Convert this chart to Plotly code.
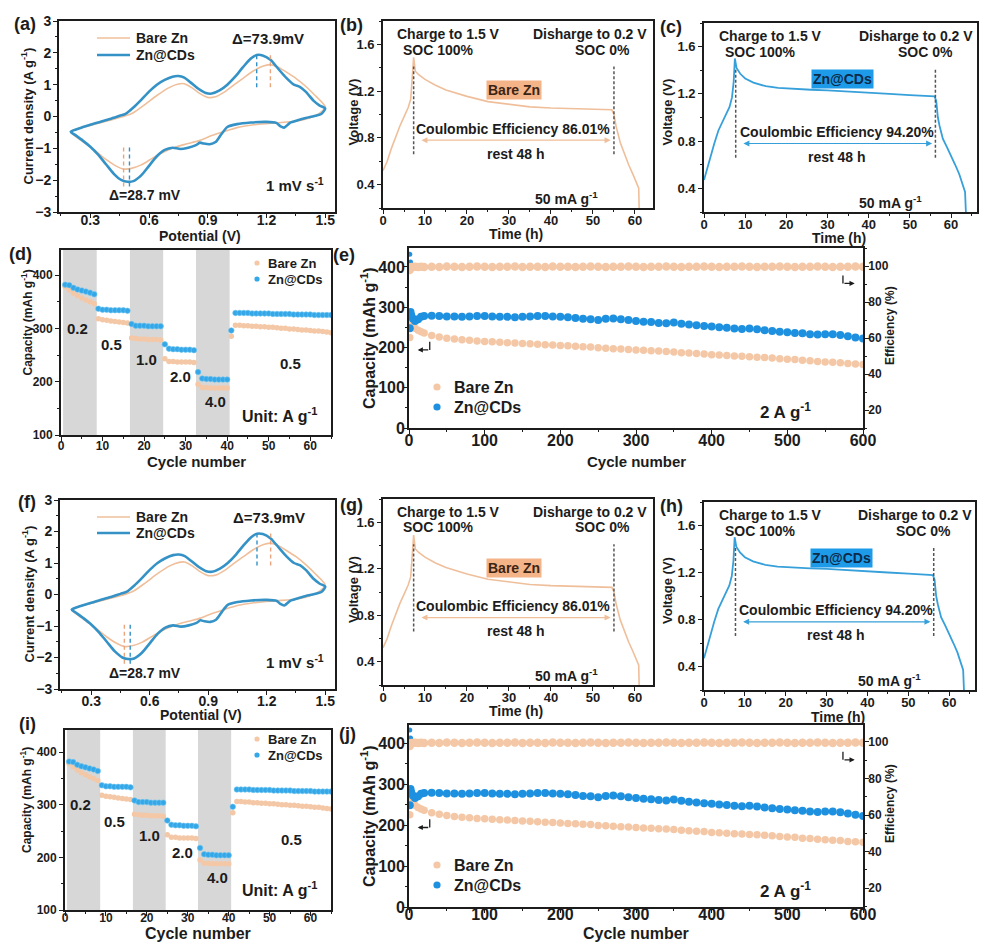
import plotly.graph_objects as go

W, H = 1001, 942
FONT = "Liberation Sans"
INK = "#1c1c1c"
OR_LINE = "#EFBF9B"
OR_PT = "#F4C8A6"
BL_CV = "#3592C6"
BL_GCD = "#37A0DA"
BL_PT = "#1E90E0"
BL_PT2 = "#34A7E8"

# ---------------- data ----------------
# (a) cyclic voltammetry, closed loops: anodic branch then cathodic branch
CV_BARE_V = [0.20, 0.30, 0.40, 0.48, 0.52, 0.58, 0.64, 0.70, 0.75, 0.78, 0.82, 0.86, 0.90, 0.94, 0.98,
             1.03, 1.08, 1.13, 1.18, 1.22, 1.26, 1.30, 1.35, 1.40, 1.45, 1.50,
             1.47, 1.42, 1.35, 1.25, 1.15, 1.05, 0.98, 0.92, 0.86, 0.80, 0.74, 0.68, 0.62, 0.56,
             0.51, 0.47, 0.43, 0.38, 0.32, 0.26, 0.20]
CV_BARE_I = [-0.48, -0.28, -0.12, 0.02, 0.12, 0.38, 0.66, 0.90, 1.02, 1.03, 0.90, 0.72, 0.60, 0.62, 0.75,
             0.98, 1.20, 1.42, 1.58, 1.63, 1.55, 1.40, 1.20, 0.95, 0.65, 0.30,
             0.10, -0.05, -0.15, -0.20, -0.25, -0.35, -0.48, -0.60, -0.75, -0.85, -0.95, -1.10, -1.30, -1.52,
             -1.63, -1.65, -1.55, -1.35, -1.05, -0.78, -0.48]
CV_CDS_V = [0.20, 0.25, 0.30, 0.35, 0.40, 0.45, 0.48, 0.52, 0.56, 0.60, 0.64, 0.68, 0.72, 0.75, 0.78,
            0.81, 0.85, 0.89, 0.92, 0.96, 1.00, 1.04, 1.08, 1.12, 1.15, 1.18, 1.22, 1.26, 1.30, 1.34,
            1.37, 1.40, 1.44, 1.47, 1.50,
            1.48, 1.45, 1.40, 1.36, 1.32, 1.29, 1.27, 1.25, 1.20, 1.12, 1.05, 1.00, 0.97, 0.94, 0.91,
            0.88, 0.86, 0.84, 0.80, 0.76, 0.72, 0.68, 0.64, 0.60, 0.56, 0.52, 0.49, 0.46, 0.42, 0.38,
            0.34, 0.30, 0.26, 0.22, 0.20]
CV_CDS_I = [-0.48, -0.36, -0.26, -0.17, -0.08, 0.02, 0.08, 0.28, 0.52, 0.78, 1.00, 1.15, 1.25, 1.27, 1.22,
            1.08, 0.88, 0.74, 0.72, 0.82, 1.00, 1.25, 1.55, 1.82, 1.93, 1.92, 1.78, 1.50, 1.22, 1.00,
            0.93, 0.78, 0.50, 0.35, 0.25,
            0.08, 0.02, -0.05, -0.12, -0.20, -0.35, -0.30, -0.20, -0.17, -0.19, -0.24, -0.33, -0.55, -0.80, -0.87,
            -0.85, -0.82, -0.90, -0.98, -1.02, -0.98, -1.05, -1.25, -1.55, -1.85, -2.03, -2.05, -2.00, -1.80, -1.50,
            -1.20, -0.95, -0.75, -0.57, -0.48]
CV_PEAKS_BARE = [0.47, 1.22]
CV_PEAKS_CDS = [0.50, 1.15]

# (b) galvanostatic charge / rest / discharge, Bare Zn
GCD_BARE_T = [0, 1, 2, 3, 4, 5, 6, 6.6, 7.0, 7.3, 7.7, 8.5, 10, 12.5, 15, 17.5, 20, 25, 30, 35, 40, 45,
              50, 54.5, 55.0, 55.5, 56.5, 57.5, 58.5, 59.5, 60.4, 60.9, 61.0]
GCD_BARE_V = [0.52, 0.60, 0.71, 0.81, 0.90, 0.98, 1.06, 1.13, 1.30, 1.49, 1.37, 1.34, 1.30, 1.25, 1.21,
              1.18, 1.155, 1.11, 1.085, 1.065, 1.055, 1.048, 1.043, 1.04, 1.00, 0.90, 0.76, 0.66, 0.57,
              0.49, 0.42, 0.37, 0.20]
# (c) same protocol, Zn@CDs
GCD_CDS_T = [0, 0.7, 1.5, 2.5, 3.5, 4.5, 5.3, 6.2, 6.8, 7.2, 7.5, 7.9, 8.8, 10, 12, 15, 18, 22, 26, 30,
             35, 40, 45, 50, 54, 56.0, 56.4, 56.8, 57.2, 58.0, 59.0, 60.0, 61.0, 62.0, 62.8, 63.4, 63.6]
GCD_CDS_V = [0.47, 0.56, 0.66, 0.78, 0.89, 0.96, 1.02, 1.09, 1.17, 1.30, 1.50, 1.42, 1.37, 1.33, 1.295,
             1.265, 1.25, 1.24, 1.235, 1.23, 1.222, 1.212, 1.20, 1.19, 1.182, 1.178, 1.14, 1.00, 0.93,
             0.82, 0.75, 0.68, 0.60, 0.52, 0.44, 0.37, 0.20]
GCD_MARKS_BARE = [7.3, 55.0]
GCD_MARKS_CDS = [7.7, 56.2]

# (d) rate performance
RATE_CYCLE = list(range(1, 66))
RATE_BARE = [378, 372, 366, 361, 357, 353, 350, 346,
             318, 316, 315, 314, 313, 312, 311, 310,
             282, 281, 280, 280, 279, 279, 279, 278,
             243, 238, 238, 237, 237, 237, 237, 236,
             195, 189, 189, 188, 188, 188, 188, 188,
             285,
             306, 306, 305, 305, 304, 304, 303, 303, 302, 302, 301, 300,
             300, 299, 299, 298, 297, 297, 296, 295, 295, 294, 293, 292]
RATE_CDS = [382, 381, 376, 373, 371, 369, 367, 364,
            337, 335, 335, 334, 334, 334, 334, 333,
            308, 305, 305, 305, 304, 304, 304, 304,
            270, 262, 261, 261, 260, 260, 260, 259,
            218, 206, 205, 205, 204, 204, 204, 204,
            296,
            329, 329, 329, 329, 328, 328, 328, 328, 328, 327, 327, 327,
            327, 327, 326, 326, 326, 326, 326, 325, 325, 325, 325, 325]
RATE_BANDS = [(0.5, 8.6), (16.6, 24.6), (32.5, 40.6)]
RATE_LABELS = ["0.2", "0.5", "1.0", "2.0", "4.0", "0.5"]
RATE_LABEL_X = [3.9, 12.2, 20.7, 28.8, 37.2, 55.3]
RATE_LABEL_Y = [300, 269, 241, 209, 162, 234]

# (e) long cycling at 2 A/g
CYC_N = [1, 2, 3, 5, 8, 12, 16, 20,
         30, 40, 50, 60, 70, 80, 90, 100, 110, 120, 130, 140, 150, 160, 170, 180, 190, 200,
         210, 220, 230, 240, 250, 260, 270, 280, 290, 300, 310, 320, 330, 340, 350, 360, 370,
         380, 390, 400, 410, 420, 430, 440, 450, 460, 470, 480, 490, 500, 510, 520, 530, 540,
         550, 560, 570, 580, 590, 600]
CYC_CDS_CAP = [248, 288, 280, 272, 266, 270, 276, 278,
               279, 278, 277, 277, 276, 277, 278, 278, 277, 276, 276, 275, 276, 277, 278, 278, 277, 276,
               275, 273, 271, 270, 268, 271, 272, 270, 268, 266, 264, 263, 261, 260, 262, 259, 257,
               255, 253, 252, 250, 249, 247, 246, 247, 245, 243, 241, 239, 238, 236, 235, 233, 232,
               233, 233, 231, 228, 225, 222]
CYC_BARE_CAP = [225, 258, 256, 252, 248, 243, 239, 236,
                230, 226, 223, 221, 219, 218, 216, 215, 214, 213, 212, 211, 210, 209, 208, 207, 206, 205,
                204, 203, 202, 201, 199, 198, 197, 196, 195, 194, 193, 192, 191, 190, 189, 187, 186,
                185, 184, 182, 181, 180, 179, 178, 177, 176, 175, 174, 172, 171, 170, 168, 167, 165,
                164, 163, 162, 160, 159, 158]
CYC_BARE_CE = [97.8, 99.2, 99.4, 99.5, 99.6, 99.5, 99.6, 99.5,
               99.6, 99.5, 99.7, 99.6, 99.5, 99.6, 99.7, 99.6, 99.5, 99.6,
               99.6, 99.7, 99.5, 99.6, 99.6, 99.5, 99.7, 99.6, 99.6, 99.5,
               99.6, 99.7, 99.6, 99.5, 99.6, 99.6, 99.7, 99.6, 99.5, 99.6,
               99.6, 99.7, 99.6, 99.5, 99.6, 99.6, 99.7, 99.6, 99.5, 99.6,
               99.6, 99.7, 99.6, 99.5, 99.6, 99.6, 99.7, 99.6, 99.5, 99.6,
               99.6, 99.7, 99.6, 99.5, 99.6, 99.6, 99.7, 99.6]
CYC_CDS_CE = [106.5, 102.2, 100.9, 100.4, 100.1, 99.9, 99.8, 99.8,
              99.8, 99.9, 99.8, 99.7, 99.8, 99.9, 99.8, 99.8, 99.7, 99.8,
              99.8, 99.9, 99.8, 99.7, 99.8, 99.9, 99.8, 99.8, 99.7, 99.8,
              99.8, 99.9, 99.8, 99.7, 99.8, 99.9, 99.8, 99.8, 99.7, 99.8,
              99.8, 99.9, 99.8, 99.7, 99.8, 99.9, 99.8, 99.8, 99.7, 99.8,
              99.8, 99.9, 99.8, 99.7, 99.8, 99.9, 99.8, 99.8, 99.7, 99.8,
              99.8, 99.9, 99.8, 99.7, 99.8, 99.9, 99.8, 99.8]

SERIES_NAMES = ["Bare Zn", "Zn@CDs"]

# ---------------- figure ----------------
fig = go.Figure()
L = {}
ANN = []
SHP = []


def xa(i):
    return "xaxis" if i == 1 else f"xaxis{i}"


def ya(i):
    return "yaxis" if i == 1 else f"yaxis{i}"


def xr(i):
    return "x" if i == 1 else f"x{i}"


def yr(i):
    return "y" if i == 1 else f"y{i}"


def ax(rng, tick0, dtick, mdtick, fsize, ts=0, **kw):
    d = dict(range=rng, autorange=False, showline=True, linecolor=INK, linewidth=1.8, mirror=True,
             ticks="outside", ticklen=4, tickwidth=1.4, tickcolor=INK, ticklabelstandoff=ts,
             tickmode="linear", tick0=tick0, dtick=dtick, showgrid=False, zeroline=False,
             tickfont=dict(family=FONT, size=fsize, color=INK, weight="bold"),
             minor=dict(ticks="outside", ticklen=2, tickwidth=1.1, tickcolor=INK,
                        tick0=tick0, dtick=mdtick, showgrid=False),
             automargin=False, fixedrange=True)
    d.update(kw)
    return d


def px(x):
    return x / W


def py(y):
    return 1 - y / H


def text(x, y, s, size, xref="paper", yref="paper", angle=0, **kw):
    ANN.append(dict(x=x, y=y, xref=xref, yref=yref, text=s, showarrow=False, textangle=angle,
                    font=dict(family=FONT, size=size, color=kw.pop("color", INK), weight="bold"),
                    xanchor=kw.pop("xanchor", "center"), yanchor=kw.pop("yanchor", "middle"), **kw))


def legend_line(x0, x1, y, color, width, label, tx, size):
    SHP.append(dict(type="line", xref="paper", yref="paper", x0=px(x0), x1=px(x1), y0=py(y), y1=py(y),
                    line=dict(color=color, width=width)))
    text(px(tx), py(y), label, size, xanchor="left")


def legend_dot(cx, y, r, color, label, tx, size):
    SHP.append(dict(type="circle", xref="paper", yref="paper", x0=px(cx - r), x1=px(cx + r),
                    y0=py(y + r), y1=py(y - r), fillcolor=color, line=dict(width=0)))
    text(px(tx), py(y), label, size, xanchor="left")


SETS = [
    dict(letters=["(a)", "(b)", "(c)", "(d)", "(e)"],
         boxes=dict(a=(59, 21, 335, 212), b=(383, 21, 653, 208), c=(704, 23, 977, 212),
                    d=(61, 250, 331, 435), e=(409, 248, 863, 428)),
         letter_pos=[(25, 24), (351, 25), (671, 27), (20, 254), (344, 255)],
         d_yr=[100, 447], e_yr=[0, 447], e_y2r=[10, 110], cyc_title=461, cyc_size=15,
         ts=dict(a=-10, b=-5, d=-5, e=-7), tt=dict(a=24, b=26, c=26),
         leg_a=(38, 55), leg_d=(263, 279), leg_e=(387, 407),
         ids=1, sec=11),
    dict(letters=["(f)", "(g)", "(h)", "(i)", "(j)"],
         boxes=dict(a=(60, 500, 335, 689), b=(383, 499, 653, 685), c=(704, 502, 975, 690),
                    d=(65, 730, 331, 910), e=(409, 725, 863, 907)),
         letter_pos=[(27, 502), (351, 505), (671, 506), (27, 724), (347, 734)],
         d_yr=[100, 442], e_yr=[0, 444], e_y2r=[9.6, 109.3], cyc_title=933, cyc_size=16,
         ts=dict(a=-6, b=-5, d=-8, e=-12), tt=dict(a=26, b=26, c=27),
         leg_a=(517, 533), leg_d=(739, 755), leg_e=(865, 885),
         ids=6, sec=12),
]

for S in SETS:
    B = S["boxes"]
    ia, ib, ic, idd, ie = [S["ids"] + k for k in range(5)]
    isec = S["sec"]
    TS = S["ts"]
    TT = S["tt"]

    def dx(b):
        return [b[0] / W, b[2] / W]

    def dy(b):
        return [1 - b[3] / H, 1 - b[1] / H]

    # ---- axes ----
    L[xa(ia)] = ax([0.14, 1.55], 0.3, 0.3, 0.15, 14, TS["a"], domain=dx(B["a"]), anchor=yr(ia))
    L[ya(ia)] = ax([-3, 3], -3, 1, 0.5, 14, -1, domain=dy(B["a"]), anchor=xr(ia))
    L[xa(ib)] = ax([0, 64.3], 0, 10, 5, 13, TS["b"], domain=dx(B["b"]), anchor=yr(ib))
    L[ya(ib)] = ax([0.2, 1.8], 0.4, 0.4, 0.2, 13, 0, domain=dy(B["b"]), anchor=xr(ib))
    L[xa(ic)] = ax([0, 66.3], 0, 10, 5, 13, TS["b"], domain=dx(B["c"]), anchor=yr(ic))
    L[ya(ic)] = ax([0.2, 1.8], 0.4, 0.4, 0.2, 13, 0, domain=dy(B["c"]), anchor=xr(ic))
    L[xa(idd)] = ax([0, 65], 0, 10, 5, 12, TS["d"], domain=dx(B["d"]), anchor=yr(idd))
    L[ya(idd)] = ax(S["d_yr"], 100, 100, 50, 12, 0, domain=dy(B["d"]), anchor=xr(idd))
    L[xa(ie)] = ax([0, 600], 0, 100, 50, 16, TS["e"], domain=dx(B["e"]), anchor=yr(ie))
    L[ya(ie)] = ax(S["e_yr"], 0, 100, 50, 16, -5, domain=dy(B["e"]), anchor=xr(ie), mirror=False)
    L[ya(isec)] = ax(S["e_y2r"], 20, 20, 10, 12, -3, overlaying=yr(ie), side="right", anchor=xr(ie),
                     mirror=False)

    # ---- (a) CV ----
    fig.add_trace(go.Scatter(x=CV_BARE_V, y=CV_BARE_I, mode="lines", name=SERIES_NAMES[0], showlegend=False,
                             line=dict(color=OR_LINE, width=1.6, shape="spline", smoothing=0.7),
                             xaxis=xr(ia), yaxis=yr(ia)))
    fig.add_trace(go.Scatter(x=CV_CDS_V, y=CV_CDS_I, mode="lines", name=SERIES_NAMES[1], showlegend=False,
                             line=dict(color=BL_CV, width=2.6, shape="spline", smoothing=0.7),
                             xaxis=xr(ia), yaxis=yr(ia)))
    for v, col, y0, y1 in [(CV_PEAKS_BARE[0], "#E9A57E", -2.2, -0.95), (CV_PEAKS_CDS[0], BL_CV, -2.2, -0.95),
                           (CV_PEAKS_CDS[1], BL_CV, 0.92, 2.02), (CV_PEAKS_BARE[1], "#E9A57E", 0.92, 2.02)]:
        SHP.append(dict(type="line", xref=xr(ia), yref=yr(ia), x0=v, x1=v, y0=y0, y1=y1,
                        line=dict(color=col, width=1.4, dash="4px,3px")))
    text(1.21, 2.46, "Δ=73.9mV", 15, xr(ia), yr(ia))
    text(0.578, -2.48, "Δ=28.7 mV", 14, xr(ia), yr(ia))
    text(1.347, -2.13, "1 mV s<sup>-1</sup>", 15, xr(ia), yr(ia))
    legend_line(97, 130, S["leg_a"][0], OR_LINE, 1.6, SERIES_NAMES[0], 134, 14)
    legend_line(97, 130, S["leg_a"][1], BL_CV, 2.6, SERIES_NAMES[1], 134, 14)

    # ---- (b),(c) GCD ----
    for ii, T, V, marks, col, lab, bg, tcol, ce, pos in [
        (ib, GCD_BARE_T, GCD_BARE_V, GCD_MARKS_BARE, OR_LINE, "Bare Zn", "#F4B487", "#3b2414", "86.01%",
         dict(ch=15.5, soc1=13.3, dis=49.3, soc0=52.3, box=(31.1, 1.21), ce=31.0, rest=31.7, cur=43.8)),
        (ic, GCD_CDS_T, GCD_CDS_V, GCD_MARKS_CDS, BL_GCD, "Zn@CDs", "#1E9BE8", "#0d2a4a", "94.20%",
         dict(ch=16.2, soc1=13.8, dis=51.6, soc0=53.8, box=(33.7, 1.325), ce=32.4, rest=32.4, cur=45.3)),
    ]:
        fig.add_trace(go.Scatter(x=T, y=V, mode="lines", showlegend=False,
                                 line=dict(color=col, width=1.8 if ii == ic else 1.6),
                                 xaxis=xr(ii), yaxis=yr(ii)))
        for m in marks:
            SHP.append(dict(type="line", xref=xr(ii), yref=yr(ii), x0=m, x1=m, y0=0.66, y1=1.41,
                            line=dict(color="#555555", width=1.5, dash="3px,2px")))
        ANN.append(dict(x=marks[1] - 0.8, y=0.78, ax=marks[0] + 1.5, ay=0.78, xref=xr(ii), yref=yr(ii),
                        axref=xr(ii), ayref=yr(ii), text="", showarrow=True, arrowhead=2,
                        arrowside="end+start", arrowsize=1, arrowwidth=1.2, arrowcolor=col))
        text(pos["ch"], 1.69, "Charge to 1.5 V", 14, xr(ii), yr(ii))
        text(pos["soc1"], 1.555, "SOC 100%", 14, xr(ii), yr(ii))
        text(pos["dis"], 1.69, "Disharge to 0.2 V", 14, xr(ii), yr(ii))
        text(pos["soc0"], 1.555, "SOC 0%", 14, xr(ii), yr(ii))
        text(pos["box"][0], pos["box"][1], lab, 14, xr(ii), yr(ii), bgcolor=bg, borderpad=1, color=tcol)
        text(pos["ce"], 0.88, "Coulombic Efficiency " + ce, 14, xr(ii), yr(ii))
        text(pos["rest"], 0.665, "rest 48 h", 14, xr(ii), yr(ii))
        text(pos["cur"], 0.285, "50 mA g<sup>-1</sup>", 14, xr(ii), yr(ii))

    # ---- (d) rate ----
    for a0, a1 in RATE_BANDS:
        SHP.append(dict(type="rect", xref=xr(idd), yref=yr(idd) + " domain", x0=a0, x1=a1, y0=0, y1=1,
                        fillcolor="#D7D7D7", line=dict(width=0), layer="below"))
    fig.add_trace(go.Scatter(x=RATE_CYCLE, y=RATE_BARE, mode="markers", name=SERIES_NAMES[0], showlegend=False,
                             marker=dict(color=OR_PT, size=5.5), xaxis=xr(idd), yaxis=yr(idd)))
    fig.add_trace(go.Scatter(x=RATE_CYCLE, y=RATE_CDS, mode="markers", name=SERIES_NAMES[1], showlegend=False,
                             marker=dict(color=BL_PT2, size=5.5, line=dict(color="#6CC4F0", width=0.6)),
                             xaxis=xr(idd), yaxis=yr(idd)))
    for lab, x, y in zip(RATE_LABELS, RATE_LABEL_X, RATE_LABEL_Y):
        text(x, y, lab, 15, xr(idd), yr(idd))
    text(52.5, 137 if S["ids"] == 1 else 139, "Unit: A g<sup>-1</sup>", 16, xr(idd), yr(idd))
    legend_dot(257, S["leg_d"][0], 2.6, OR_PT, SERIES_NAMES[0], 266, 13)
    legend_dot(257, S["leg_d"][1], 2.6, BL_PT2, SERIES_NAMES[1], 266, 13)

    # ---- (e) cycling ----
    fig.add_trace(go.Scatter(x=CYC_N, y=CYC_CDS_CE, mode="markers", showlegend=False,
                             marker=dict(color=BL_PT, size=5), xaxis=xr(ie), yaxis=yr(isec)))
    fig.add_trace(go.Scatter(x=CYC_N, y=CYC_BARE_CE, mode="markers", showlegend=False,
                             marker=dict(color=OR_PT, size=8.5), xaxis=xr(ie), yaxis=yr(isec)))
    fig.add_trace(go.Scatter(x=CYC_N, y=CYC_BARE_CAP, mode="markers", name=SERIES_NAMES[0], showlegend=False,
                             marker=dict(color=OR_PT, size=7.5), xaxis=xr(ie), yaxis=yr(ie)))
    fig.add_trace(go.Scatter(x=CYC_N, y=CYC_CDS_CAP, mode="markers", name=SERIES_NAMES[1], showlegend=False,
                             marker=dict(color=BL_PT, size=8), xaxis=xr(ie), yaxis=yr(ie)))
    text(497, 41, "2 A g<sup>-1</sup>", 17, xr(ie), yr(ie))
    # small L-shaped axis pointers
    SHP.append(dict(type="line", xref=xr(ie), yref=yr(ie), x0=27.4, x1=27.4, y0=194, y1=214,
                    line=dict(color=INK, width=1.3)))
    ANN.append(dict(x=11.5, y=194, ax=27.4, ay=194, xref=xr(ie), yref=yr(ie), axref=xr(ie), ayref=yr(ie),
                    text="", showarrow=True, arrowhead=2, arrowsize=0.8, arrowwidth=1.3, arrowcolor=INK))
    SHP.append(dict(type="line", xref=xr(ie), yref=yr(ie), x0=573.5, x1=573.5, y0=379, y1=359,
                    line=dict(color=INK, width=1.3)))
    ANN.append(dict(x=589, y=359, ax=573.5, ay=359, xref=xr(ie), yref=yr(ie), axref=xr(ie), ayref=yr(ie),
                    text="", showarrow=True, arrowhead=2, arrowsize=0.8, arrowwidth=1.3, arrowcolor=INK))
    legend_dot(437, S["leg_e"][0], 3.6, OR_PT, SERIES_NAMES[0], 452, 16)
    legend_dot(437, S["leg_e"][1], 3.6, BL_PT, SERIES_NAMES[1], 452, 16)

    # ---- axis titles ----
    a, b, c, d, e = B["a"], B["b"], B["c"], B["d"], B["e"]
    text(px(a[0] - 32), py((a[1] + a[3]) / 2), "Current density (A g<sup>-1</sup>)", 13, angle=-90)
    text(px((a[0] + a[2]) / 2 + 3), py(a[3] + TT["a"]), "Potential (V)", 14)
    text(px(b[0] - 30), py((b[1] + b[3]) / 2 - 2), "Voltage (V)", 13, angle=-90)
    text(px((b[0] + b[2]) / 2 - 2), py(b[3] + TT["b"]), "Time (h)", 14)
    text(px(c[0] - 37), py((c[1] + c[3]) / 2 - 5), "Voltage (V)", 13, angle=-90)
    text(px((c[0] + c[2]) / 2 - 2), py(c[3] + TT["c"]), "Time (h)", 14)
    text(px(26), py((d[1] + d[3]) / 2 - 20), "Capacity (mAh g<sup>-1</sup>)", 12, angle=-90)
    text(px((d[0] + d[2]) / 2), py(S["cyc_title"]), "Cycle number", S["cyc_size"])
    text(px(e[0] - 41), py((e[1] + e[3]) / 2 - 0), "Capacity (mAh g<sup>-1</sup>)", 16, angle=-90)
    text(px(e[2] + 27), py((e[1] + e[3]) / 2 - 12), "Efficiency (%)", 12, angle=-90)
    text(px((e[0] + e[2]) / 2), py(S["cyc_title"]), "Cycle number", S["cyc_size"])

    # ---- panel letters ----
    for lab, (x, y) in zip(S["letters"], S["letter_pos"]):
        text(px(x), py(y), lab, 18)

fig.update_layout(**L)
fig.update_layout(width=W, height=H, margin=dict(l=0, r=0, t=0, b=0),
                  paper_bgcolor="white", plot_bgcolor="white", showlegend=False,
                  annotations=ANN, shapes=SHP, font=dict(family=FONT, color=INK))
fig.write_html("out.html")
